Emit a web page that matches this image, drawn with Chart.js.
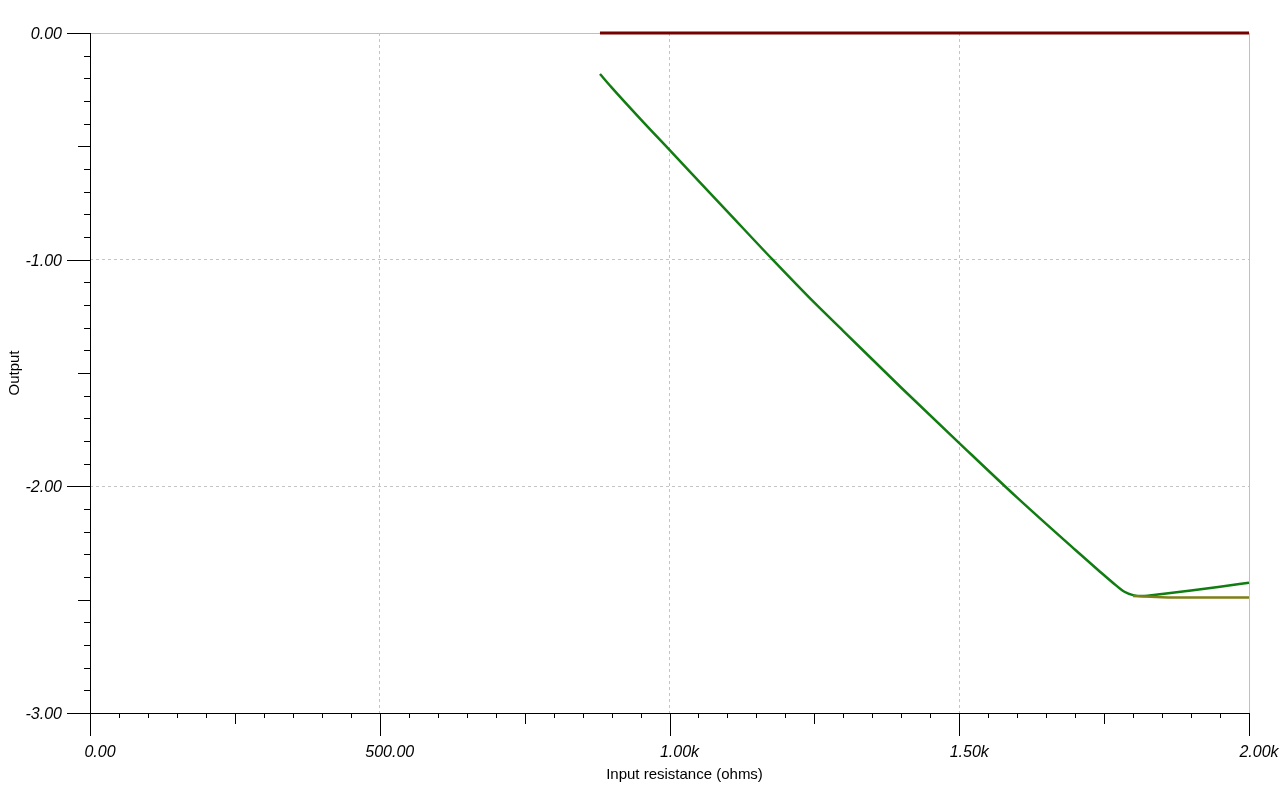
<!DOCTYPE html>
<html>
<head>
<meta charset="utf-8">
<script src="https://cdn.jsdelivr.net/npm/chart.js@4"></script>
<style>
    html, body { margin: 0; padding: 0; background: #fff; }
    #wrap { width: 1281px; height: 793px; }
</style>
</head>
<body>
<div id="wrap"><canvas id="myChart" width="1281" height="793"></canvas></div>
<script>
// resistance (ohms) / output values
const redX = [880, 2000];
const redY = [0, 0];

const greenX = [880, 900, 950, 1000, 1100, 1178, 1250, 1300, 1400, 1500, 1600, 1700, 1740, 1765, 1785, 1800, 1815, 1850, 1900, 1950, 2000];
const greenY = [-0.181, -0.24, -0.38, -0.516, -0.788, -1.0, -1.19, -1.315, -1.565, -1.809, -2.05, -2.28, -2.37, -2.425, -2.465, -2.48, -2.484, -2.475, -2.46, -2.443, -2.425];

const oliveX = [1800, 1860, 2000];
const oliveY = [-2.484, -2.49, -2.49];

const xTickLabels = { 0: '0.00', 500: '500.00', 1000: '1.00k', 1500: '1.50k', 2000: '2.00k' };
const yTickLabels = { 0: '0.00', '-1': '-1.00', '-2': '-2.00', '-3': '-3.00' };

const toPoints = (xs, ys) => xs.map((x, i) => ({ x, y: ys[i] }));

// frame under the lines, axis lines / tick marks / x title on top
const axisTicks = {
    id: 'axisTicks',
    beforeDatasetsDraw(chart) {
        const { ctx, chartArea: a } = chart;
        ctx.save();
        ctx.lineWidth = 1;
        ctx.strokeStyle = '#c0c0c0';
        ctx.beginPath();
        ctx.moveTo(a.left, a.top + 0.5);
        ctx.lineTo(a.right, a.top + 0.5);
        ctx.moveTo(a.right + 0.5, a.top);
        ctx.lineTo(a.right + 0.5, a.bottom);
        ctx.stroke();
        ctx.restore();
    },
    afterDraw(chart) {
        const { ctx, chartArea: a, scales: { x, y } } = chart;
        ctx.save();
        ctx.lineWidth = 1;
        ctx.strokeStyle = '#000';
        ctx.beginPath();
        ctx.moveTo(a.left + 0.5, a.top);
        ctx.lineTo(a.left + 0.5, a.bottom);
        ctx.moveTo(a.left, a.bottom + 0.5);
        ctx.lineTo(a.right + 1, a.bottom + 0.5);

        for (let v = 0; v <= 2000; v += 50) {
            const px = Math.round(x.getPixelForValue(v)) + 0.5;
            const len = v % 500 === 0 ? 23 : (v % 250 === 0 ? 11 : 5);
            ctx.moveTo(px, a.bottom);
            ctx.lineTo(px, a.bottom + len);
        }
        for (let i = 0; i <= 30; i++) {
            const v = -i / 10;
            const py = Math.round(y.getPixelForValue(v)) + 0.5;
            const len = i % 10 === 0 ? 23 : (i % 5 === 0 ? 12 : 6);
            ctx.moveTo(a.left, py);
            ctx.lineTo(a.left - len, py);
        }
        ctx.stroke();

        ctx.fillStyle = '#000';
        ctx.font = '15px "Liberation Sans"';
        ctx.textAlign = 'center';
        ctx.textBaseline = 'middle';
        ctx.fillText('Input resistance (ohms)', (a.left + a.right) / 2 + 15, a.bottom + 62);
        ctx.restore();
    }
};

const noPad = s => {
    s.paddingLeft = 0;
    s.paddingRight = 0;
    s.paddingTop = 0;
    s.paddingBottom = 0;
};

const ctx = document.getElementById('myChart').getContext('2d');

new Chart(ctx, {
    type: 'line',
    data: {
        datasets: [
            { data: toPoints(oliveX, oliveY), borderColor: '#7f7f17', borderWidth: 2.5, pointRadius: 0, clip: false },
            { data: toPoints(greenX, greenY), borderColor: '#117c11', borderWidth: 2.5, pointRadius: 0, cubicInterpolationMode: 'monotone', clip: false },
            { data: toPoints(redX, redY), borderColor: '#750000', borderWidth: 3, pointRadius: 0, clip: false }
        ]
    },
    options: {
        responsive: false,
        animation: false,
        layout: { padding: { top: 33, right: 32, left: 0, bottom: 0 } },
        plugins: { legend: { display: false }, tooltip: { enabled: false } },
        scales: {
            x: {
                type: 'linear',
                min: 0,
                max: 2000,
                afterFit: s => { s.height = 80; noPad(s); },
                border: { display: false, dash: [3, 3] },
                grid: {
                    drawTicks: false,
                    color: c => (c.tick.value === 0 || c.tick.value === 2000) ? 'rgba(0,0,0,0)' : '#c4c4c4'
                },
                ticks: {
                    stepSize: 500,
                    padding: 30,
                    labelOffset: 10,
                    maxRotation: 0,
                    color: '#000',
                    font: { family: 'Liberation Sans', size: 16, style: 'italic' },
                    callback: v => xTickLabels[v]
                }
            },
            y: {
                min: -3,
                max: 0,
                afterFit: s => { s.width = 90; noPad(s); },
                border: { display: false, dash: [3, 3] },
                grid: {
                    drawTicks: false,
                    color: c => (c.tick.value === 0 || c.tick.value === -3) ? 'rgba(0,0,0,0)' : '#c4c4c4'
                },
                ticks: {
                    stepSize: 1,
                    padding: 28,
                    labelOffset: 1.5,
                    color: '#000',
                    font: { family: 'Liberation Sans', size: 16, style: 'italic' },
                    callback: v => yTickLabels[v]
                },
                title: {
                    display: true,
                    text: 'Output',
                    color: '#000',
                    font: { family: 'Liberation Sans', size: 15 },
                    padding: { top: 6, bottom: 0 }
                }
            }
        }
    },
    plugins: [axisTicks]
});
</script>
</body>
</html>
